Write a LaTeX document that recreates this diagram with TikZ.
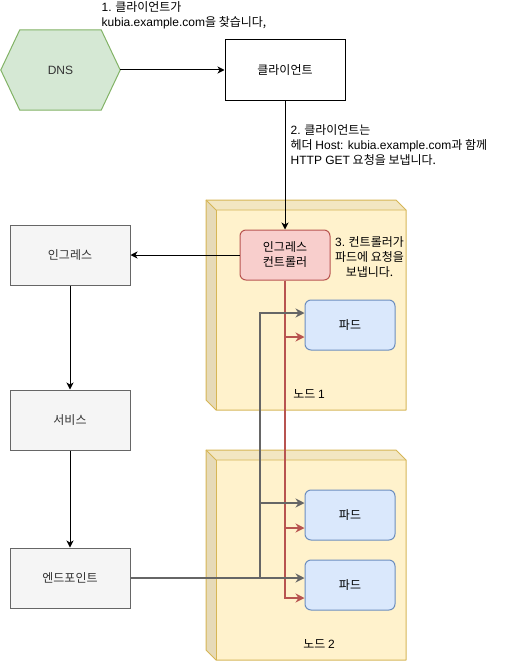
\documentclass[tikz,border=0pt]{standalone}
\usepackage{fontspec}
\setmainfont{Noto Sans CJK KR}
\newfontfamily\lat{Liberation Sans}
\usetikzlibrary{arrows.meta,calc}
\definecolor{nfill}{HTML}{FFF2CC}
\definecolor{nline}{HTML}{D6B656}
\definecolor{ntop}{HTML}{F2E6C2}
\definecolor{nside}{HTML}{E6DAB8}
\definecolor{rfill}{HTML}{F8CECC}
\definecolor{rline}{HTML}{B85450}
\definecolor{bfill}{HTML}{DAE8FC}
\definecolor{bline}{HTML}{6C8EBF}
\definecolor{gfill}{HTML}{F5F5F5}
\definecolor{gline}{HTML}{666666}
\definecolor{hfill}{HTML}{D5E8D4}
\definecolor{hline}{HTML}{82B366}
\definecolor{txt}{HTML}{333333}
\newcommand\drawcube[3]{%
  \fill[nfill] (#1+10,#2+10) rectangle (#1+200,#2+#3);
  \fill[ntop] (#1,#2) -- (#1+190,#2) -- (#1+200,#2+10) -- (#1+10,#2+10) -- cycle;
  \fill[nside] (#1,#2) -- (#1+10,#2+10) -- (#1+10,#2+#3) -- (#1,#2+#3-10) -- cycle;
  \draw[nline, line width=1pt, line join=round] (#1,#2) -- (#1+190,#2) -- (#1+200,#2+10) -- (#1+200,#2+#3) -- (#1+10,#2+#3) -- (#1,#2+#3-10) -- cycle;
  \draw[nline, line width=0.8pt] (#1,#2) -- (#1+10,#2+10) -- (#1+200,#2+10);
  \draw[nline, line width=0.8pt] (#1+10,#2+10) -- (#1+10,#2+#3);
}
\tikzset{
  every node/.style={font=\fontsize{12}{15}\selectfont, text=black},
  gbox/.style={draw=gline, fill=gfill, line width=1pt, minimum width=120pt, minimum height=60pt, inner sep=0pt, text=txt},
  podbox/.style={draw=bline, fill=bfill, line width=1pt, rounded corners=6pt, minimum width=90pt, minimum height=50pt, inner sep=0pt},
  ctlbox/.style={draw=rline, fill=rfill, line width=1pt, rounded corners=6pt, minimum width=90pt, minimum height=50pt, inner sep=0pt, align=center},
  lbl/.style={inner sep=0pt},
  blk/.style={draw=black, line width=1pt, -{Stealth[length=7pt,width=7pt,inset=2pt]}},
  redl/.style={draw=rline, line width=2pt, -{Stealth[length=9pt,width=9pt,inset=3pt]}},
  gryl/.style={draw=gline, line width=2pt, -{Stealth[length=9pt,width=9pt,inset=3pt]}},
}
\begin{document}
\begin{tikzpicture}[x=1pt,y=-1pt]
\useasboundingbox (0,0) rectangle (511,661);
\drawcube{206}{200}{210}
\drawcube{206}{450}{210}
\node[lbl, minimum width=119pt, minimum height=80pt, text=txt] (dns) at (60.5,70) {};
\draw[hline, fill=hfill, line width=1pt] (dns.west) -- ($(dns.north west)+(19,0)$) -- ($(dns.north east)+(-19,0)$) -- (dns.east) -- ($(dns.south east)+(-19,0)$) -- ($(dns.south west)+(19,0)$) -- cycle;
\node[lbl, text=txt] (dnst) at (dns) {\lat DNS};
\node[draw=black, fill=white, line width=1pt, minimum width=120pt, minimum height=60pt, inner sep=0pt] (client) at (285,70) {클라이언트};
\node[ctlbox] (ictl) at (285,255) {인그레스\\컨트롤러};
\node[podbox] (pod1) at (350,325) {파드};
\node[podbox] (pod2) at (350,515) {파드};
\node[podbox] (pod3) at (350,585) {파드};
\node[gbox] (ing) at (70,255) {인그레스};
\node[gbox] (svc) at (70,420) {서비스};
\node[gbox] (ep) at (70,578) {엔드포인트};
\node[lbl, anchor=west, align=left] (t1) at (101.5,15) {{\lat 1.} 클라이언트가\\{\lat kubia.example.com}을 찾습니다,};
\node[lbl, anchor=west, align=left] (t2) at (290.5,145) {{\lat 2.} 클라이언트는\\헤더 {\lat Host: kubia.example.com}과 함께\\{\lat HTTP GET} 요청을 보냅니다.};
\node[lbl, align=center] (t3) at (369.5,257) {{\lat 3.} 컨트롤러가\\파드에 요청을\\보냅니다.};
\node[lbl] (n1) at (309,394) {노드 {\lat 1}};
\node[lbl] (n2) at (319,644) {노드 {\lat 2}};
\draw[blk] (dns) -- (client);
\draw[blk] (client) -- (ictl);
\draw[blk] (ictl) -- (ing);
\draw[blk] (ing) -- (svc);
\draw[blk] (svc) -- (ep);
\draw[redl] (ictl.south) |- ($(pod1.west)+(0,12)$);
\draw[redl] (ictl.south) |- ($(pod2.west)+(0,13)$);
\draw[redl] (ictl.south) |- ($(pod3.west)+(0,13)$);
\coordinate (gj) at (260,578);
\draw[gryl] (ep.east) -- (gj) |- ($(pod1.west)+(0,-12)$);
\draw[gryl] (ep.east) -- (gj) |- ($(pod2.west)+(0,-12)$);
\draw[gryl] (ep.east) -- (ep.east -| pod3.west);
\end{tikzpicture}
\end{document}
